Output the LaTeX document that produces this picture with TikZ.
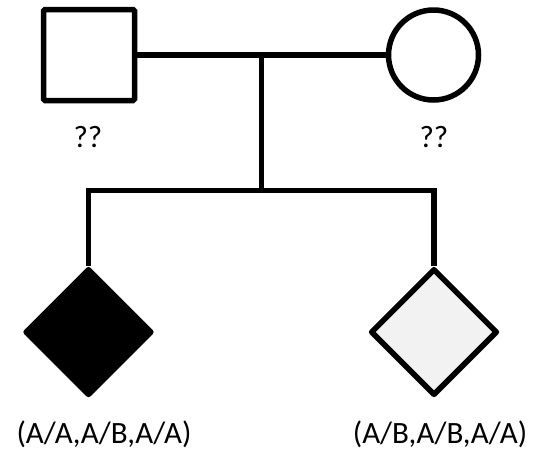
\documentclass[tikz,border=0pt]{standalone}
\usepackage{fontspec}
\setmainfont{Carlito}
\usetikzlibrary{shapes.geometric}
\begin{document}
\begin{tikzpicture}[x=1pt,y=-1pt,
  person/.style={draw=black, line width=5.5pt, fill=white, inner sep=0pt},
  male/.style={person, rectangle, rounded corners=1.5pt, minimum size=91pt},
  female/.style={person, circle, minimum size=90pt},
  child/.style={person, diamond, aspect=1, minimum size=127pt, line join=round},
  affected/.style={fill=black},
  carrier/.style={fill=black!5},
  link/.style={draw=black, line width=5.5pt, line join=miter},
  tag/.style={font=\fontsize{31pt}{36pt}\selectfont, inner sep=0pt}]
  \useasboundingbox (0,0) rectangle (534,451);

  % parents
  \node[male]   (father) at (89,55) {};
  \node[female] (mother) at (433.5,55) {};
  \node[tag] (fatherlbl) at (88,137) {??};
  \node[tag] (motherlbl) at (434,137) {??};

  % children
  \node[child, affected] (son)  at (88.5,332) {};
  \node[child, carrier]  (daughter) at (434,332) {};
  \node[tag] (sonlbl)  at (104,434) {(A/A,A/B,A/A)};
  \node[tag] (daughterlbl) at (440,434) {(A/B,A/B,A/A)};

  % mating line and sibship line
  \coordinate (mate) at (261.5,55);
  \coordinate (sib)  at (261.5,190.5);
  \draw[link] (father.east) -- (mother.west);
  \draw[link] (mate) -- (sib);
  \draw[link] (son.north) |- (sib) -| (daughter.north);
\end{tikzpicture}
\end{document}
